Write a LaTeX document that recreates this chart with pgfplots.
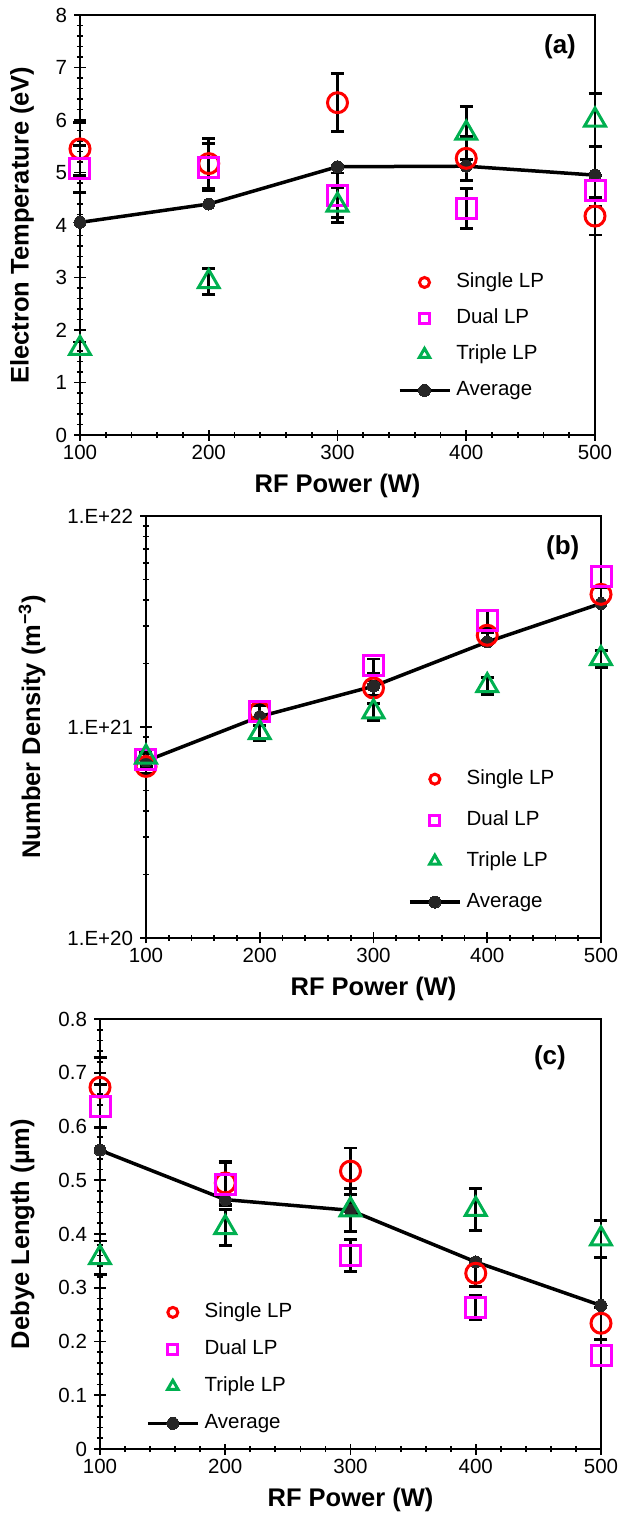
\documentclass[border=0pt]{standalone}
\usepackage{pgfplots}
\pgfplotsset{compat=1.18}
\usepackage{fontspec}
\setmainfont{Liberation Sans}
\definecolor{sred}{HTML}{FF0000}
\definecolor{dmag}{HTML}{FF00FF}
\definecolor{tgreen}{HTML}{00B050}
\definecolor{avgc}{HTML}{262626}
\pgfplotsset{
  myaxis/.style={
    scale only axis, anchor=north west, clip=false,
    axis line style={line width=1.5pt},
    tick align=center,
    xtick pos=left, ytick pos=left,
    major tick length=11pt, minor tick length=6pt,
    every tick/.style={black, line width=1.8pt},
    minor x tick num=4,
    xmin=100, xmax=500, xtick={100,200,300,400,500},
    /pgf/number format/assume math mode=true,
    ticklabel style={font=\fontsize{20.5}{20.5}\selectfont},
    yticklabel style={xshift=-4pt},
    xticklabel style={yshift=-1pt},
    label style={font=\bfseries\fontsize{25.5}{25.5}\selectfont},
    legend style={draw=none, fill=none, inner sep=0pt, outer sep=0pt,
      font=\fontsize{20.5}{20.5}\selectfont, anchor=north west,
      nodes={inner sep=0pt, text height=15pt, text depth=5pt}, column sep=5pt},
    legend cell align=left,
    legend image code/.code={\draw[mark repeat=2,mark phase=2,##1] plot coordinates {(0pt,0pt)(25pt,0pt)(50pt,0pt)};},
    xlabel={RF Power (W)},
    xlabel style={at={(axis description cs:0.5,0)}, anchor=center, yshift=-51pt},
  },
  pts/.style={only marks, line width=3pt, forget plot,
    error bars/y dir=both, error bars/y explicit,
    error bars/error bar style={black, line width=2.8pt},
    error bars/error mark options={rotate=90, black, mark size=6.5pt, line width=2.8pt}},
  avgline/.style={black, line width=3.5pt, mark=*, mark size=6pt,
    mark options={fill=avgc, draw=avgc, line width=0pt}},
}
\begin{document}
\begin{tikzpicture}
\path[use as bounding box] (0pt,0pt) rectangle (619pt,-1516pt);
% ---------------- (a)
\begin{axis}[myaxis, at={(80pt,-15pt)}, width=515pt, height=420pt,
  ymin=0, ymax=8, ytick={0,1,...,8}, minor y tick num=4,
  ylabel={Electron Temperature (eV)},
  ylabel style={at={(axis description cs:-0.1126,0.5)}, anchor=center},
  legend style={at={(rel axis cs:0.617,0.387)}, row sep=16pt}]
\addplot[avgline, forget plot] coordinates {(100,4.05) (200,4.40) (300,5.11) (400,5.12) (500,4.95)};
\addplot[pts, mark=o, sred, mark size=10pt] coordinates {
 (100,5.45) +- (0,0.50) (200,5.17) +- (0,0.48) (300,6.33) +- (0,0.55) (400,5.27) +- (0,0.42) (500,4.17) +- (0,0.36)};
\addplot[pts, mark=square, dmag, mark size=10pt] coordinates {
 (100,5.07) +- (0,0.45) (200,5.10) +- (0,0.45) (300,4.57) +- (0,0.42) (400,4.32) +- (0,0.38) (500,4.65) +- (0,0.30)};
\addplot[pts, mark=triangle, tgreen, mark size=12pt] coordinates {
 (100,1.65) +- (0,0.12) (200,2.92) +- (0,0.25) (300,4.38) +- (0,0.33) (400,5.75) +- (0,0.50) (500,6.00) +- (0,0.50)};
\addlegendimage{only marks, mark=o, sred, line width=3pt, mark size=5pt}
\addlegendentry{Single LP}
\addlegendimage{only marks, mark=square, dmag, line width=3pt, mark size=5pt}
\addlegendentry{Dual LP}
\addlegendimage{only marks, mark=triangle, tgreen, line width=3pt, mark size=6pt}
\addlegendentry{Triple LP}
\addlegendimage{avgline}
\addlegendentry{Average}
\node[font=\bfseries\fontsize{26}{26}\selectfont] at (rel axis cs:0.932,0.924) {(a)};
\end{axis}
% ---------------- (b)
\begin{axis}[myaxis, at={(146pt,-516pt)}, width=455pt, height=422pt,
  ymode=log, ymin=1e20, ymax=1e22, ytick={1e20,1e21,1e22},
  yticklabels={1.E+20,1.E+21,1.E+22},
  ylabel={Number Density (m\textsuperscript{−3})},
  ylabel style={at={(axis description cs:-0.2505,0.5)}, anchor=center},
  legend style={at={(rel axis cs:0.576,0.40)}, row sep=21pt}]
\addplot[avgline, forget plot] coordinates {(100,6.9e20) (200,1.12e21) (300,1.56e21) (400,2.53e21) (500,3.85e21)};
\addplot[pts, mark=o, sred, mark size=10pt] coordinates {
 (100,6.5e20) +- (0,0.5e20) (200,1.18e21) +- (0,0.08e21) (300,1.53e21) +- (0,0.12e21) (400,2.72e21) +- (0,0.25e21) (500,4.25e21) +- (0,0.35e21)};
\addplot[pts, mark=square, dmag, mark size=10pt] coordinates {
 (100,7.0e20) +- (0,0.5e20) (200,1.18e21) +- (0,0.10e21) (300,1.95e21) +- (0,0.15e21) (400,3.18e21) +- (0,0.37e21) (500,5.19e21) +- (0,0.6e21)};
\addplot[pts, mark=triangle, tgreen, mark size=12pt] coordinates {
 (100,7.2e20) +- (0,0.4e20) (200,9.4e20) +- (0,0.8e20) (300,1.18e21) +- (0,0.11e21) (400,1.57e21) +- (0,0.14e21) (500,2.11e21) +- (0,0.19e21)};
\addlegendimage{only marks, mark=o, sred, line width=3pt, mark size=5pt}
\addlegendentry{Single LP}
\addlegendimage{only marks, mark=square, dmag, line width=3pt, mark size=5pt}
\addlegendentry{Dual LP}
\addlegendimage{only marks, mark=triangle, tgreen, line width=3pt, mark size=6pt}
\addlegendentry{Triple LP}
\addlegendimage{avgline}
\addlegendentry{Average}
\node[font=\bfseries\fontsize{26}{26}\selectfont] at (rel axis cs:0.916,0.924) {(b)};
\end{axis}
% ---------------- (c)
\begin{axis}[myaxis, at={(100pt,-1019pt)}, width=501pt, height=430pt,
  ymin=0, ymax=0.8, ytick={0,0.1,...,0.8}, minor y tick num=4,
  yticklabel style={/pgf/number format/.cd, fixed, precision=1},
  ylabel={Debye Length (µm)},
  ylabel style={at={(axis description cs:-0.1547,0.5)}, anchor=center},
  legend style={at={(rel axis cs:0.092,0.341)}, row sep=17pt}]
\addplot[avgline, forget plot] coordinates {(100,0.556) (200,0.464) (300,0.444) (400,0.348) (500,0.267)};
\addplot[pts, mark=o, sred, mark size=10pt] coordinates {
 (100,0.673) +- (0,0.055) (200,0.495) +- (0,0.040) (300,0.517) +- (0,0.043) (400,0.327) +- (0,0.025) (500,0.234) +- (0,0.030)};
\addplot[pts, mark=square, dmag, mark size=10pt] coordinates {
 (100,0.638) +- (0,0.040) (200,0.492) +- (0,0.040) (300,0.360) +- (0,0.030) (400,0.263) +- (0,0.023) (500,0.174) +- (0,0.018)};
\addplot[pts, mark=triangle, tgreen, mark size=12pt] coordinates {
 (100,0.356) +- (0,0.031) (200,0.412) +- (0,0.033) (300,0.445) +- (0,0.040) (400,0.446) +- (0,0.039) (500,0.391) +- (0,0.034)};
\addlegendimage{only marks, mark=o, sred, line width=3pt, mark size=5pt}
\addlegendentry{Single LP}
\addlegendimage{only marks, mark=square, dmag, line width=3pt, mark size=5pt}
\addlegendentry{Dual LP}
\addlegendimage{only marks, mark=triangle, tgreen, line width=3pt, mark size=6pt}
\addlegendentry{Triple LP}
\addlegendimage{avgline}
\addlegendentry{Average}
\node[font=\bfseries\fontsize{26}{26}\selectfont] at (rel axis cs:0.898,0.909) {(c)};
\end{axis}
\end{tikzpicture}
\end{document}
